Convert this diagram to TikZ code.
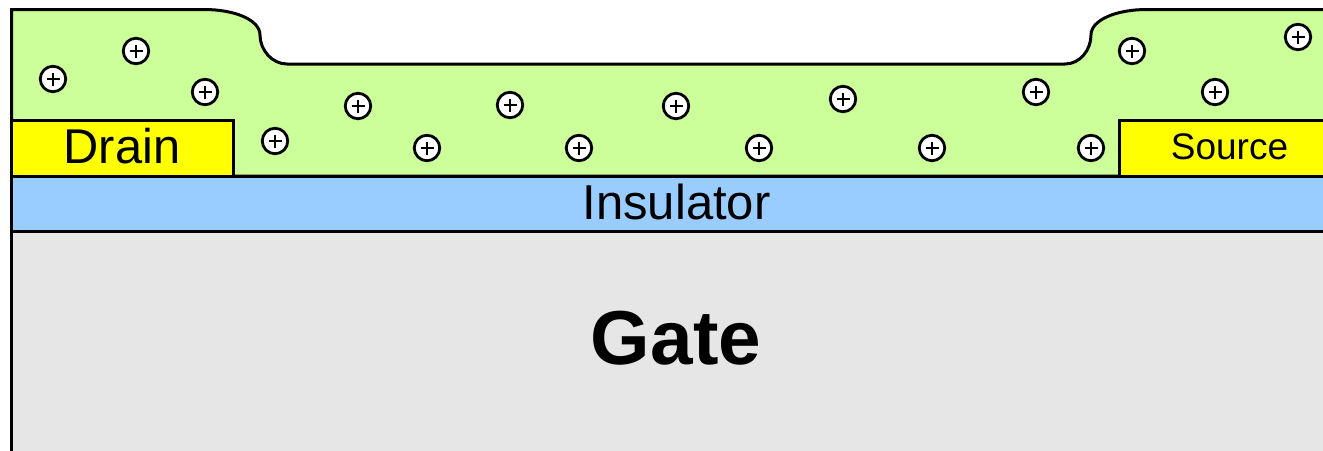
\documentclass[tikz,border=0pt]{standalone}
\usepackage{fontspec}
\setmainfont{Liberation Sans}
\definecolor{chan}{HTML}{CCFF99}
\definecolor{ins}{HTML}{99CCFF}
\definecolor{gatec}{HTML}{E6E6E6}
\definecolor{elec}{HTML}{FFFF00}
\tikzset{
  x=1pt,y=-1pt,
  layer/.style={draw=black,line width=3pt,line join=miter},
  hole/.style={circle,draw=black,fill=white,line width=2.8pt,minimum size=25.5pt,inner sep=0pt,
    path picture={\draw[black,line width=2pt] ([xshift=-6.5pt]path picture bounding box.center) -- ([xshift=6.5pt]path picture bounding box.center)
      ([yshift=-6.5pt]path picture bounding box.center) -- ([yshift=6.5pt]path picture bounding box.center);}},
}
\begin{document}
\begin{tikzpicture}
\useasboundingbox (0,0) rectangle (1323,450);
\begin{scope}
\clip (0,0) rectangle (1323,450);
\draw[layer,fill=chan] (11.5,176) -- (11.5,9.5) -- (204,9.5)
  .. controls (235,9.5) and (260,20) .. (260,35)
  .. controls (260,50) and (272,64) .. (287,64)
  -- (1065,64)
  .. controls (1080,64) and (1091,50) .. (1091,35)
  .. controls (1091,20) and (1116,9.5) .. (1147,9.5)
  -- (1330,9.5) -- (1330,176) -- cycle;
\draw[layer,fill=gatec] (11.5,460) -- (11.5,231) -- (1330,231) -- (1330,460) -- cycle;
\draw[layer,fill=ins] (11.5,231) -- (11.5,176) -- (1330,176) -- (1330,231) -- cycle;
\draw[layer,fill=elec] (11.5,176) -- (11.5,120.5) -- (233,120.5) -- (233,176) -- cycle;
\draw[layer,fill=elec] (1330,176) -- (1330,120.5) -- (1119,120.5) -- (1119,176) -- cycle;
\end{scope}
\node[inner sep=0pt,font=\fontsize{48.8pt}{48.8pt}\selectfont] (drain) at (122,146.5) {Drain};
\node[inner sep=0pt,font=\fontsize{37pt}{37pt}\selectfont] (source) at (1229.5,147) {Source};
\node[inner sep=0pt,font=\fontsize{49pt}{49pt}\selectfont] (insulator) at (676.5,202) {Insulator};
\node[inner sep=0pt,font=\fontsize{76.5pt}{76.5pt}\selectfont\bfseries] (gate) at (676,338) {Gate};
\foreach \n/\px/\py in {a/53/79,b/136/51,c/205/92,d/275/141,e/358/106,f/427/148,g/510/105,h/579/148,i/676/106,j/759/148,k/843/99,l/932/148,m/1036/92,n/1091/148,o/1132/51,p/1215/92,q/1298/37}
  \node[hole] (h\n) at (\px,\py) {};
\end{tikzpicture}
\end{document}
